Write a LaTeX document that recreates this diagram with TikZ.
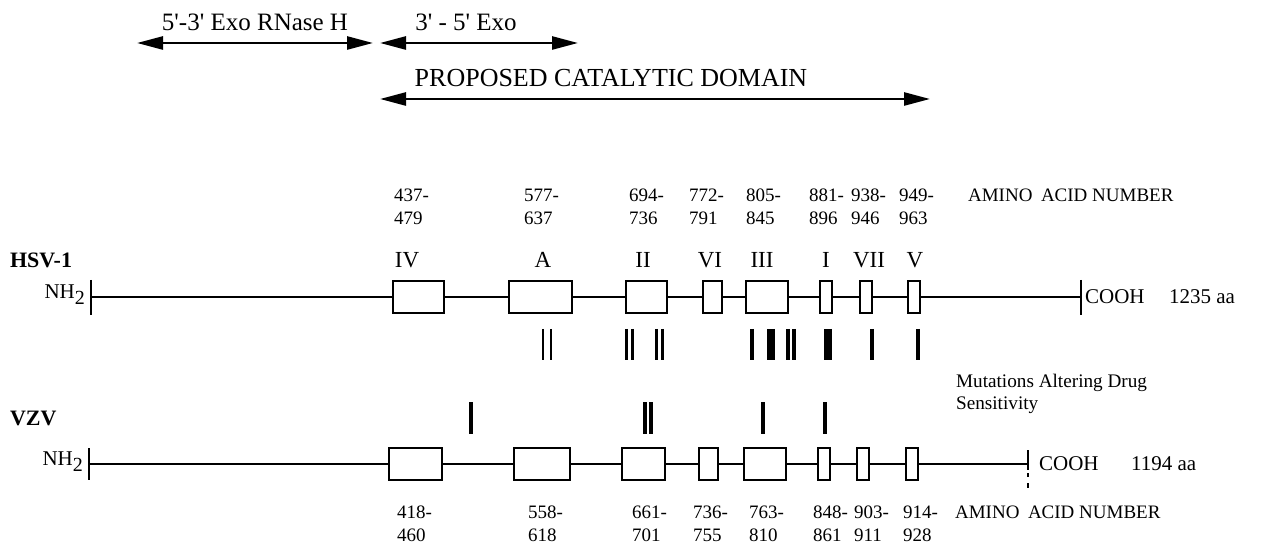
\documentclass[tikz,border=0pt]{standalone}
\usepackage{fontspec}
\setmainfont{Liberation Serif}
\usetikzlibrary{arrows.meta}
\newcommand\prm{\textquotesingle}
\begin{document}
\begin{tikzpicture}[x=0.5pt,y=-0.5pt,line width=1.1pt,
 motif/.style={rectangle,draw,fill=white,minimum height=16pt,inner sep=0,line width=1pt},
 span/.style={{Triangle[length=13pt,width=6.5pt]}-{Triangle[length=13pt,width=6.5pt]},line width=1.3pt},
 big/.style={font=\fontsize{12.5}{15}\selectfont},
 dom/.style={font=\fontsize{11.5}{14}\selectfont},
 aanum/.style={font=\fontsize{9.5}{11.5}\selectfont,align=left,anchor=north west,inner sep=0},
 virus/.style={font=\fontsize{11}{13}\selectfont\bfseries,anchor=west,inner sep=0},
 tail/.style={font=\fontsize{10.5}{13}\selectfont,anchor=west,inner sep=0}]
\useasboundingbox(0,0)rectangle(1261,544);
\node[big](rnh)at(255,22){5\prm-3\prm{} Exo RNase H};
\node[big](exo)at(466,22){3\prm{} - 5\prm{} Exo};
\node[font=\fontsize{13}{15}\selectfont](cat)at(611,78){PROPOSED CATALYTIC DOMAIN};
\coordinate(r1)at(137,43);\coordinate(r2)at(373,43);
\coordinate(e1)at(380,43);\coordinate(e2)at(578,43);
\coordinate(c1)at(380,99);\coordinate(c2)at(930,99);
\draw[span](r1)--(r2);\draw[span](e1)--(e2);\draw[span](c1)--(c2);
\node[virus](hsv)at(9,260){HSV-1};
\node[tail,anchor=east](hnh)at(86,295){NH\raisebox{-.6ex}{\fontsize{10}{12}\selectfont 2}};
\coordinate(hN)at(91,297);\coordinate(hC)at(1081,297);
\foreach \n/\x/\w in {IV/418.5/51,A/540.5/63,II/646.5/41,VI/712.5/19,III/767/42,I/826/12,VII/866/12,V/914/12}\node[motif,minimum width=\w*0.5pt](h\n)at(\x,297){};
\draw(hN)--(hIV)--(hA)--(hII)--(hVI)--(hIII)--(hI)--(hVII)--(hV)--(hC);
\draw(hN)++(0,-17)--++(0,35);\draw(hC)++(0,-17)--++(0,35);
\foreach \t/\x in {IV/407,A/543,II/643,VI/710,III/762,I/826,VII/869,V/915}\node[dom](d\t)at(\x,260){\t};
\foreach \a/\b/\x in {437/479/393,577/637/523,694/736/628,772/791/688,805/845/745,881/896/808,938/946/850,949/963/898}\node[aanum](t\a)at(\x,188){\a-\\\b};
\node[aanum](tlab)at(967,188){AMINO\hspace{0.45em}ACID NUMBER};
\node[tail](hcooh)at(1084,297){COOH};\node[tail](hlen)at(1168,297){1235 aa};
\foreach \x/\w in {543/1,551/1,626.5/1.7,632.5/1.7,656.5/1.7,662.5/1.7,752/1.8,771/4,788/1.7,794/1.7,828/3.6,872/1.8,918/1.8}\draw[line width=\w pt](\x,329)--(\x,360);
\node[tail,font=\fontsize{9.6}{11}\selectfont,align=left](mut)at(955,394){Mutations Altering Drug\\Sensitivity};
\foreach \x/\w in {471/2,645/1.7,651/1.7,763/2,825/2}\draw[line width=\w pt](\x,402)--(\x,434);
\node[virus](vzv)at(9,418){VZV};
\node[tail,anchor=east](vnh)at(84,462){NH\raisebox{-.6ex}{\fontsize{10}{12}\selectfont 2}};
\coordinate(vN)at(89,464);\coordinate(vC)at(1028,464);
\foreach \n/\x/\w in {IV/415.5/53,A/542/56,II/643.5/43,VI/708.5/19,III/765/42,I/824/12,VII/863/12,V/912/12}\node[motif,minimum width=\w*0.5pt](v\n)at(\x,464){};
\draw(vN)--(vIV)--(vA)--(vII)--(vVI)--(vIII)--(vI)--(vVII)--(vV)--(vC);
\draw(vN)++(0,-16)--++(0,32);
\draw[dash pattern=on 10pt off 1.5pt on 2pt off 3pt on 3pt](vC)++(0,-14)--++(0,38);
\node[tail](vcooh)at(1038,464){COOH};\node[tail](vlen)at(1130,464){1194 aa};
\foreach \a/\b/\x in {418/460/396,558/618/527,661/701/631,736/755/692,763/810/748,848/861/812,903/911/853,914/928/902}\node[aanum](b\a)at(\x,505){\a-\\\b};
\node[aanum](blab)at(954,505){AMINO\hspace{0.45em}ACID NUMBER};
\end{tikzpicture}
\end{document}
